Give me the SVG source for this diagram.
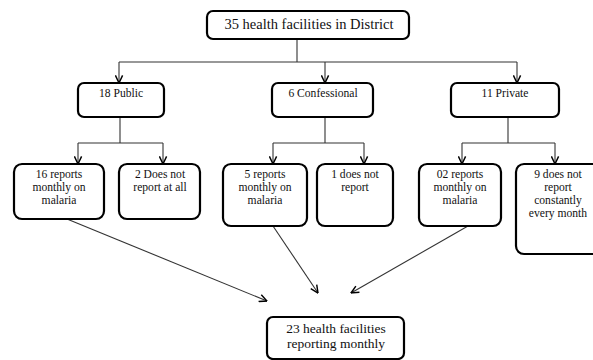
<svg xmlns="http://www.w3.org/2000/svg" width="593" height="360" viewBox="0 0 593 360">
<style>
.box{fill:#fff;stroke:#000;stroke-width:2.2}
.t{font-family:"Liberation Serif","Times New Roman",serif;font-size:11.6px;fill:#111;text-anchor:middle}
.tl{font-family:"Liberation Serif","Times New Roman",serif;font-size:14.5px;fill:#111;text-anchor:middle}
.c{fill:none;stroke:#333;stroke-width:1.1}
</style>
<defs>
<marker id="ah" viewBox="0 0 10 10" refX="9.5" refY="5" markerWidth="9" markerHeight="9" markerUnits="userSpaceOnUse" orient="auto">
<path d="M1,1 L9.5,5 L1,9" fill="none" stroke="#000" stroke-width="1.6"/>
</marker>
</defs>
<rect width="593" height="360" fill="#fff"/>
<g id="connectors">
<path class="c" d="M297 39 V62 M119 62 H517"/>
<path class="c" d="M119 62 V83" marker-end="url(#ah)"/>
<path class="c" d="M325 62 V83" marker-end="url(#ah)"/>
<path class="c" d="M517 62 V83" marker-end="url(#ah)"/>
<path class="c" d="M120 117 V143 M78 143 H163"/>
<path class="c" d="M78 143 V164" marker-end="url(#ah)"/>
<path class="c" d="M163 143 V164" marker-end="url(#ah)"/>
<path class="c" d="M325 117 V143 M273 143 H364"/>
<path class="c" d="M273 143 V164" marker-end="url(#ah)"/>
<path class="c" d="M364 143 V164" marker-end="url(#ah)"/>
<path class="c" d="M508 117 V143 M462 143 H555"/>
<path class="c" d="M462 143 V164" marker-end="url(#ah)"/>
<path class="c" d="M555 143 V164" marker-end="url(#ah)"/>
<path class="c" d="M67 219 L267 301" marker-end="url(#ah)"/>
<path class="c" d="M273 226 L318 293" marker-end="url(#ah)"/>
<path class="c" d="M468 226 L351 293" marker-end="url(#ah)"/>
</g>
<g id="n-district">
<rect class="box" x="207" y="11" width="202" height="28" rx="6"/>
<text class="tl" x="309" y="29">35 health facilities in District</text>
</g>
<g id="n-public">
<rect class="box" x="78" y="83" width="86" height="34" rx="6"/>
<text class="t" x="121" y="97">18 Public</text>
</g>
<g id="n-confessional">
<rect class="box" x="272" y="83" width="101" height="34" rx="6"/>
<text class="t" x="323" y="97">6 Confessional</text>
</g>
<g id="n-private">
<rect class="box" x="451" y="83" width="108" height="34" rx="6"/>
<text class="t" x="505" y="97">11 Private</text>
</g>
<g id="n-16">
<rect class="box" x="14" y="164" width="90" height="55" rx="8"/>
<text class="t" x="59" y="178">16 reports</text>
<text class="t" x="59" y="191">monthly on</text>
<text class="t" x="59" y="204">malaria</text>
</g>
<g id="n-2">
<rect class="box" x="119" y="164" width="81" height="55" rx="8"/>
<text class="t" x="160" y="178">2 Does not</text>
<text class="t" x="160" y="191">report at all</text>
</g>
<g id="n-5">
<rect class="box" x="223" y="164" width="84" height="62" rx="8"/>
<text class="t" x="265" y="178">5 reports</text>
<text class="t" x="265" y="191">monthly on</text>
<text class="t" x="265" y="204">malaria</text>
</g>
<g id="n-1">
<rect class="box" x="317" y="164" width="76" height="62" rx="8"/>
<text class="t" x="355" y="178">1 does not</text>
<text class="t" x="355" y="191">report</text>
</g>
<g id="n-02">
<rect class="box" x="419" y="164" width="82" height="62" rx="8"/>
<text class="t" x="460" y="178">02 reports</text>
<text class="t" x="460" y="191">monthly on</text>
<text class="t" x="460" y="204">malaria</text>
</g>
<g id="n-9">
<rect class="box" x="516" y="164" width="86" height="90" rx="8"/>
<text class="t" x="558" y="178">9 does not</text>
<text class="t" x="558" y="191">report</text>
<text class="t" x="558" y="204">constantly</text>
<text class="t" x="558" y="217">every month</text>
</g>
<g id="n-23">
<rect class="box" x="267" y="317" width="137" height="42" rx="6"/>
<text class="tl" x="336" y="333" style="font-size:13.5px">23 health facilities</text>
<text class="tl" x="336" y="348" style="font-size:13.5px">reporting monthly</text>
</g>
</svg>
